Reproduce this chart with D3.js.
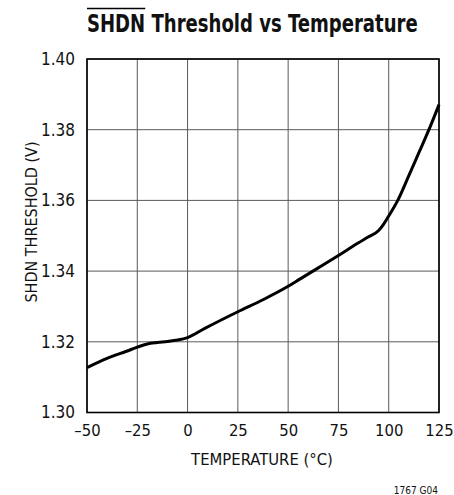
<!DOCTYPE html>
<html>
<head>
<meta charset="utf-8">
<script src="https://cdn.jsdelivr.net/npm/d3@7"></script>
<style>
  html, body { margin: 0; padding: 0; background: #fff; }
  svg text { font-family: "DejaVu Sans Condensed", "Liberation Sans Narrow", "Liberation Sans", sans-serif; fill: #111; }
</style>
</head>
<body>
<svg id="chart" width="454" height="495"></svg>
<script>
// Data
const temperature = [-50, -40, -30, -25, -20, -15, -10, -5, 0, 8.6, 25, 37.5, 50, 56, 75, 85, 90, 95, 97.5, 100, 104.5, 110, 115, 120, 125];
const threshold   = [1.3127, 1.3153, 1.3174, 1.3185, 1.3194, 1.3198, 1.3201, 1.3205, 1.3212, 1.3238, 1.3285, 1.3319, 1.3357, 1.3378, 1.3444, 1.3480, 1.3497, 1.3515, 1.3533, 1.3556, 1.3600, 1.3670, 1.3735, 1.3800, 1.3871];
const xTicks = [-50, -25, 0, 25, 50, 75, 100, 125];
const yTicks = [1.30, 1.32, 1.34, 1.36, 1.38, 1.40];

const svg = d3.select("#chart");
const m = { left: 87, right: 439, top: 59, bottom: 412.5 };

const x = d3.scaleLinear().domain([-50, 125]).range([m.left, m.right]);
const y = d3.scaleLinear().domain([1.30, 1.40]).range([m.bottom, m.top]);

// grid
svg.append("g").selectAll("line").data(xTicks).join("line")
  .attr("x1", d => x(d)).attr("x2", d => x(d))
  .attr("y1", m.top).attr("y2", m.bottom)
  .attr("stroke", "#5a5a5a").attr("stroke-width", 1);
svg.append("g").selectAll("line").data(yTicks).join("line")
  .attr("x1", m.left).attr("x2", m.right)
  .attr("y1", d => y(d)).attr("y2", d => y(d))
  .attr("stroke", "#5a5a5a").attr("stroke-width", 1);

// frame
svg.append("rect")
  .attr("x", m.left).attr("y", m.top)
  .attr("width", m.right - m.left).attr("height", m.bottom - m.top)
  .attr("fill", "none").attr("stroke", "#000").attr("stroke-width", 1.6);

// axes labels via d3 axes
const xAxis = d3.axisBottom(x).tickValues(xTicks).tickSize(0).tickPadding(12)
  .tickFormat(d => d < 0 ? "\u2013" + Math.abs(d) : String(d));
const gx = svg.append("g").attr("transform", `translate(0,${m.bottom})`).call(xAxis);
gx.select(".domain").remove();
gx.selectAll("text").attr("font-size", 16.5).style("font-family", null);

const yAxis = d3.axisLeft(y).tickValues(yTicks).tickSize(0).tickPadding(12)
  .tickFormat(d3.format(".2f"));
const gy = svg.append("g").attr("transform", `translate(${m.left},0)`).call(yAxis);
gy.select(".domain").remove();
gy.selectAll("text").attr("font-size", 17).style("font-family", null);

// curve
const line = d3.line().x((d, i) => x(temperature[i])).y(d => y(d)).curve(d3.curveMonotoneX);
svg.append("path").datum(threshold)
  .attr("d", line).attr("fill", "none")
  .attr("stroke", "#000").attr("stroke-width", 3).attr("stroke-linejoin", "round");

// title: measured then horizontally scaled to the reference width
const titleG = svg.append("g");
const title = titleG.append("text").attr("x", 0).attr("y", 0)
  .attr("font-size", 25).attr("font-weight", "bold")
  .text("SHDN Threshold vs Temperature");
const tn = title.node();
const natural = tn.getComputedTextLength();
const sx = 331 / natural;
titleG.attr("transform", `translate(87,32) scale(${sx},1)`);
// overline over SHDN
const ox0 = tn.getStartPositionOfChar(0).x;
const ox1 = tn.getEndPositionOfChar(3).x;
titleG.append("line").attr("x1", ox0).attr("x2", ox1)
  .attr("y1", -23.5).attr("y2", -23.5).attr("stroke", "#000").attr("stroke-width", 1.6);

// axis titles
svg.append("text").attr("x", 262).attr("y", 465).attr("text-anchor", "middle")
  .attr("font-size", 16.5).text("TEMPERATURE (\u00B0C)");
svg.append("text").attr("transform", "translate(37,222) rotate(-90)")
  .attr("text-anchor", "middle").attr("font-size", 16).text("SHDN THRESHOLD (V)");

// figure code
svg.append("text").attr("x", 438).attr("y", 494).attr("text-anchor", "end")
  .attr("font-size", 10).text("1767 G04");
</script>
</body>
</html>
